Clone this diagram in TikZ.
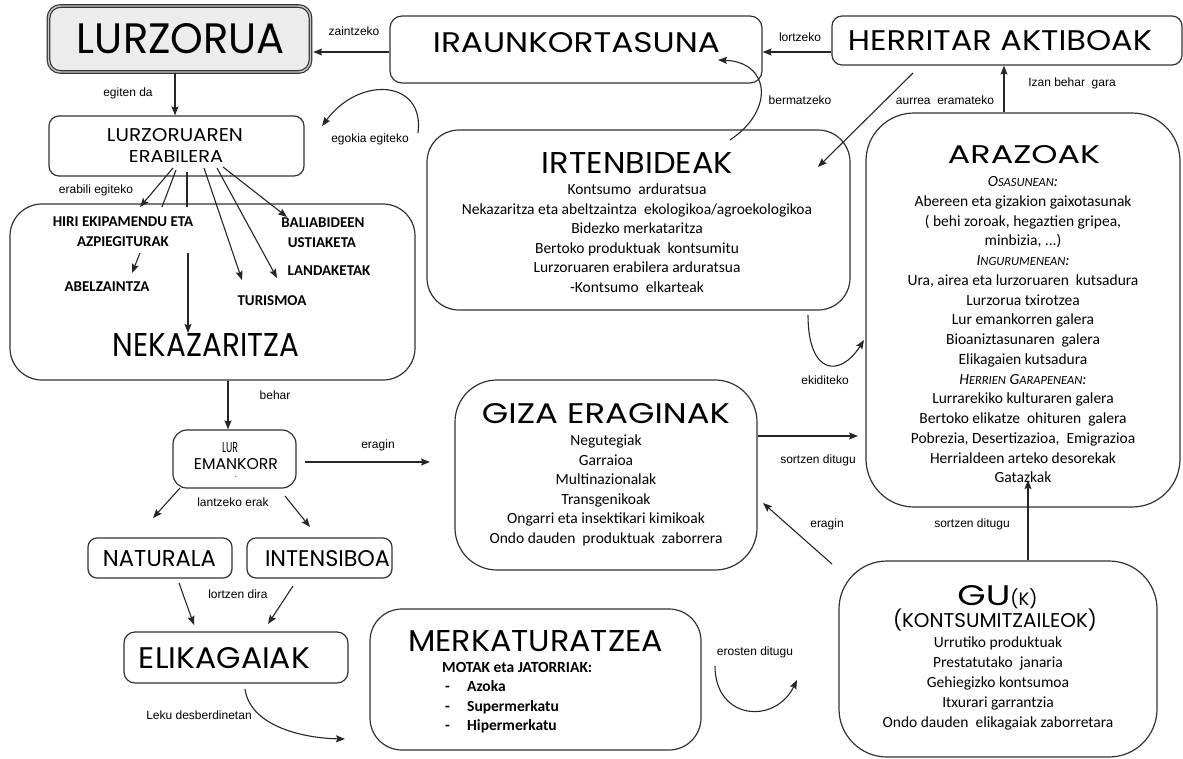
\documentclass[tikz,border=0pt]{standalone}
\usepackage{fontspec}
\usepackage{graphicx}
\setmainfont{Carlito}
\newfontfamily\tf{Poppins}
\newfontfamily\lf{Liberation Sans}
\usetikzlibrary{arrows.meta,calc}
\newcommand{\mkttl}[3]{\resizebox{#1pt}{#2pt}{\tf #3}}
\newcommand{\smc}[1]{{\fontsize{12.5}{14}\selectfont #1}}
\begin{document}
\begin{tikzpicture}[x=1pt,y=-1pt,
 bx/.style={draw=black!80,line width=1.2pt,fill=white,inner sep=0pt},
 arr/.style={draw=black!85,line width=1.1pt,-{Stealth[length=9pt,width=7pt,inset=1.5pt]}},
 ln/.style={draw=black!85,line width=1.1pt},
 lab/.style={font=\lf\fontsize{12}{13}\selectfont,inner sep=0pt},
 body/.style={font=\fontsize{15.5}{17}\selectfont,inner sep=0pt,anchor=base},
 bcap/.style={font=\bfseries\fontsize{15}{17}\selectfont,inner sep=0pt,anchor=base},
 mk/.style={font=\bfseries\fontsize{15.5}{17}\selectfont,inner sep=0pt,anchor=base west},
 tt/.style={inner sep=0pt,anchor=base},
]
\useasboundingbox (0,0) rectangle (1183,758);

% ---------- boxes
\node[bx,fill=gray!15,double=gray!45,double distance=1.4pt,rounded corners=12pt,minimum width=262pt,minimum height=66pt] (lurz) at (179.5,39) {};
\node[bx,rounded corners=12pt,minimum width=372pt,minimum height=67pt] (irau) at (576,49.5) {};
\node[bx,rounded corners=10pt,minimum width=350pt,minimum height=49pt] (herr) at (1007,40.5) {};
\node[bx,rounded corners=10pt,minimum width=255pt,minimum height=60pt] (lerab) at (176.5,146) {};
\node[bx,rounded corners=32pt,minimum width=405pt,minimum height=176pt] (nekb) at (212.5,292) {};
\node[bx,rounded corners=32pt,minimum width=423pt,minimum height=180pt] (irten) at (638.5,220) {};
\node[bx,rounded corners=48pt,minimum width=314pt,minimum height=394pt] (araz) at (1023,310) {};
\node[bx,rounded corners=14pt,minimum width=123pt,minimum height=58pt] (lurem) at (234.5,459) {};
\node[bx,rounded corners=42pt,minimum width=302pt,minimum height=190pt] (giza) at (606,475) {};
\node[bx,rounded corners=9pt,minimum width=144pt,minimum height=40pt] (natur) at (160,558) {};
\node[bx,rounded corners=9pt,minimum width=145pt,minimum height=40pt] (inten) at (319.5,558) {};
\node[bx,rounded corners=11pt,minimum width=224pt,minimum height=51pt] (elik) at (236,657.5) {};
\node[bx,rounded corners=32pt,minimum width=331pt,minimum height=141pt] (merk) at (535.5,679.5) {};
\node[bx,rounded corners=48pt,minimum width=318pt,minimum height=196pt] (gu) at (998,659) {};

% ---------- helper coordinates
\coordinate (y52) at (0,52);
\coordinate (x175) at (175,0);
\coordinate (x228) at (228,0);
\coordinate (x1004) at (1004,0);
\coordinate (x1028) at (1028,0);
\coordinate (y436) at (0,436);
\coordinate (y462) at (0,462);

% ---------- connectors
\draw[arr,shorten >=2pt] (irau.west |- y52) -- (lurz.east |- y52);
\draw[arr] (herr.west |- y52) -- (irau.east |- y52);
\draw[arr] (lurz.south -| x175) -- (lerab.north -| x175);
\coordinate (eg1) at (418,133); \coordinate (eg2) at (322,126);
\draw[arr] (eg1) .. controls (425,80) and (360,75) .. (eg2);
\coordinate (be1) at (730,140); \coordinate (be2) at (718,60);
\draw[arr] (be1) .. controls (775,110) and (770,62) .. (be2);
\coordinate (au1) at (913,73); \coordinate (au2) at (818,167);
\draw[arr] (au1) -- (au2);
\draw[arr] (araz.north -| x1004) -- (herr.south -| x1004);

% fan from LURZORUAREN ERABILERA
\coordinate (f1) at (173,168); \coordinate (g1) at (140,207);
\coordinate (f2) at (176,170); \coordinate (g2) at (162,207);
\coordinate (f3) at (187,172); \coordinate (g3) at (187,207);
\coordinate (f4) at (204,168); \coordinate (g4) at (242,280);
\coordinate (f5) at (217,168); \coordinate (g5) at (277,278);
\coordinate (f6) at (223,167); \coordinate (g6) at (287,217);
\draw[arr] (f1) -- (g1);
\draw[ln] (f2) -- (g2);
\draw[ln] (f3) -- (g3);
\draw[arr] (f4) -- (g4);
\draw[arr] (f5) -- (g5);
\draw[arr] (f6) -- (g6);
\coordinate (h1) at (140,253); \coordinate (h2) at (132,273);
\draw[arr] (h1) -- (h2);
\coordinate (h3) at (188,253); \coordinate (h4) at (188,333);
\draw[arr] (h3) -- (h4);

\draw[arr] (nekb.south -| x228) -- (lurem.north -| x228);
\coordinate (er2) at (430,462);
\draw[arr] ([xshift=8pt]lurem.east |- y462) -- (er2);
\coordinate (n1) at (180,488); \coordinate (n2) at (153,518);
\draw[arr] (n1) -- (n2);
\coordinate (i1) at (285,496); \coordinate (i2) at (310,527);
\draw[arr] (i1) -- (i2);
\coordinate (e1) at (179,583); \coordinate (e2) at (194,625);
\draw[arr] (e1) -- (e2);
\coordinate (e3) at (293,586); \coordinate (e4) at (268,624);
\draw[arr] (e3) -- (e4);
\coordinate (m1) at (245,689); \coordinate (m2) at (345,739);
\draw[arr] (m1) .. controls (250,725) and (300,738) .. (m2);
\coordinate (o1) at (715,666); \coordinate (o2) at (797,680);
\draw[arr] (o1) .. controls (715,720) and (775,725) .. (o2);
\coordinate (k1) at (832,564); \coordinate (k2) at (763,503);
\draw[arr] (k1) -- (k2);
\coordinate (s2) at (1028,480);
\draw[arr] (gu.north -| x1028) -- (s2);
\coordinate (s4) at (858,436);
\draw[arr] (giza.east |- y436) -- (s4);
\coordinate (d1) at (808,315); \coordinate (d2) at (864,340);
\draw[arr] (d1) .. controls (808,375) and (840,378) .. (d2);

% ---------- titles
\node[tt] (t1) at (181,53) {\mkttl{208}{30}{LURZORUA}};
\node[tt] (t2) at (576.5,52) {\mkttl{287}{20}{IRAUNKORTASUNA}};
\node[tt] (t3) at (1000,50) {\mkttl{304}{20}{HERRITAR AKTIBOAK}};
\node[tt] (t4) at (175,141) {\mkttl{136}{13}{LURZORUAREN}};
\node[tt] (t5) at (176,162) {\mkttl{94}{12}{ERABILERA}};
\node[tt] (t6) at (206,356.5) {\mkttl{186}{23}{NEKAZARITZA}};
\node[tt] (t7) at (637.5,173) {\mkttl{191}{21}{IRTENBIDEAK}};
\node[tt] (t8) at (1024,163) {\mkttl{152}{18}{ARAZOAK}};
\node[tt] (t9) at (606,423) {\mkttl{248}{20}{GIZA ERAGINAK}};
\node[tt] (t10) at (230,452) {\mkttl{16}{10}{LUR}};
\node[tt] (t11) at (236,469) {\mkttl{84}{11}{EMANKORR}};
\node[tt,font=\fontsize{8}{8}\selectfont] (t11b) at (236,477) {.};
\node[tt] (t12) at (159.5,566) {\mkttl{113}{16}{NATURALA}};
\node[tt] (t13) at (327.5,566) {\mkttl{125}{16}{INTENSIBOA}};
\node[tt] (t14) at (224.5,668) {\mkttl{171}{21}{ELIKAGAIAK}};
\node[tt] (t15) at (535.5,651) {\mkttl{255}{21}{MERKATURATZEA}};
\node[tt] (t16) at (997.5,605) {\mkttl{53}{20}{GU}{\tf\fontsize{18}{20}\selectfont(K)}};
\node[tt] (t17) at (995,627) {\resizebox{204pt}{!}{\tf (KONTSUMITZAILEOK)}};

% ---------- items inside big box
\node[bcap] (b1) at (123,226) {HIRI EKIPAMENDU ETA};
\node[bcap] (b2) at (123,246) {AZPIEGITURAK};
\node[bcap] (b3) at (107,291) {ABELZAINTZA};
\node[bcap] (b4) at (272,305) {TURISMOA};
\node[bcap] (b5) at (323,227) {BALIABIDEEN};
\node[bcap] (b6) at (322,247) {USTIAKETA};
\node[bcap] (b7) at (329,275) {LANDAKETAK};

% ---------- IRTENBIDEAK lines
\node[body] (ir1) at (637,194.5) {Kontsumo\ \ arduratsua};
\node[body] (ir2) at (637,214) {Nekazaritza eta abeltzaintza\ \ ekologikoa/agroekologikoa};
\node[body] (ir3) at (637,233.5) {Bidezko merkataritza};
\node[body] (ir4) at (637,253) {Bertoko produktuak\ \ kontsumitu};
\node[body] (ir5) at (637,272.5) {Lurzoruaren erabilera arduratsua};
\node[body] (ir6) at (637,292) {-Kontsumo\ \ elkarteak};

% ---------- ARAZOAK lines
\node[body] (a1) at (1023,186.5) {\textit{O\smc{SASUNEAN}:}};
\node[body] (a2) at (1023,206.2) {Abereen eta gizakion gaixotasunak};
\node[body] (a3) at (1023,226) {( behi zoroak, hegaztien gripea,};
\node[body] (a4) at (1023,245.7) {minbizia, ...)};
\node[body] (a5) at (1023,265.5) {\textit{I\smc{NGURUMENEAN}:}};
\node[body] (a6) at (1023,285.2) {Ura, airea eta lurzoruaren\ \ kutsadura};
\node[body] (a7) at (1023,305) {Lurzorua txirotzea};
\node[body] (a8) at (1023,324.7) {Lur emankorren galera};
\node[body] (a9) at (1023,344.5) {Bioaniztasunaren\ \ galera};
\node[body] (a10) at (1023,364.2) {Elikagaien kutsadura};
\node[body] (a11) at (1023,384) {\textit{H\smc{ERRIEN} G\smc{ARAPENEAN}:}};
\node[body] (a12) at (1023,403.7) {Lurrarekiko kulturaren galera};
\node[body] (a13) at (1023,423.5) {Bertoko elikatze\ \ ohituren\ \ galera};
\node[body] (a14) at (1023,443.2) {Pobrezia, Desertizazioa,\ \ Emigrazioa};
\node[body] (a15) at (1023,463) {Herrialdeen arteko desorekak};
\node[body] (a16) at (1023,482.7) {Gatazkak};

% ---------- GIZA ERAGINAK lines
\node[body] (gz1) at (606,445.5) {Negutegiak};
\node[body] (gz2) at (606,465.1) {Garraioa};
\node[body] (gz3) at (606,484.7) {Multinazionalak};
\node[body] (gz4) at (606,504.3) {Transgenikoak};
\node[body] (gz5) at (606,523.9) {Ongarri eta insektikari kimikoak};
\node[body] (gz6) at (606,543.5) {Ondo dauden\ \ produktuak\ \ zaborrera};

% ---------- GU lines
\node[body] (gl1) at (998,647.5) {Urrutiko produktuak};
\node[body] (gl2) at (998,667.4) {Prestatutako\ \ janaria};
\node[body] (gl3) at (998,687.3) {Gehiegizko kontsumoa};
\node[body] (gl4) at (998,707.2) {Itxurari garrantzia};
\node[body] (gl5) at (998,727.1) {Ondo dauden\ \ elikagaiak zaborretara};

% ---------- MERKATURATZEA lines
\node[mk] (mk0) at (442,672.5) {MOTAK eta JATORRIAK:};
\node[mk] (mkd1) at (445,691.5) {-};
\node[mk] (mk1) at (467,691.5) {Azoka};
\node[mk] (mkd2) at (445,711) {-};
\node[mk] (mk2) at (467,711) {Supermerkatu};
\node[mk] (mkd3) at (445,730.5) {-};
\node[mk] (mk3) at (467,730.5) {Hipermerkatu};

% ---------- connector labels
\node[lab] (l1) at (354,31) {zaintzeko};
\node[lab] (l2) at (800,37) {lortzeko};
\node[lab] (l3) at (128,93) {egiten da};
\node[lab] (l4) at (370,139) {egokia egiteko};
\node[lab] (l5) at (96,190) {erabili egiteko};
\node[lab] (l6) at (800,100) {bermatzeko};
\node[lab] (l7) at (945,100) {aurrea\ \ eramateko};
\node[lab] (l8) at (1072,83) {Izan behar\ \ gara};
\node[lab] (l9) at (275,395) {behar};
\node[lab] (l10) at (378,445) {eragin};
\node[lab] (l11) at (233,502) {lantzeko erak};
\node[lab] (l12) at (238,594) {lortzen dira};
\node[lab] (l13) at (199,715) {Leku desberdinetan};
\node[lab] (l14) at (755,652) {erosten ditugu};
\node[lab] (l15) at (825,380) {ekiditeko};
\node[lab] (l16) at (818,460) {sortzen ditugu};
\node[lab] (l17) at (827,524) {eragin};
\node[lab] (l18) at (972,524) {sortzen ditugu};
\end{tikzpicture}
\end{document}
